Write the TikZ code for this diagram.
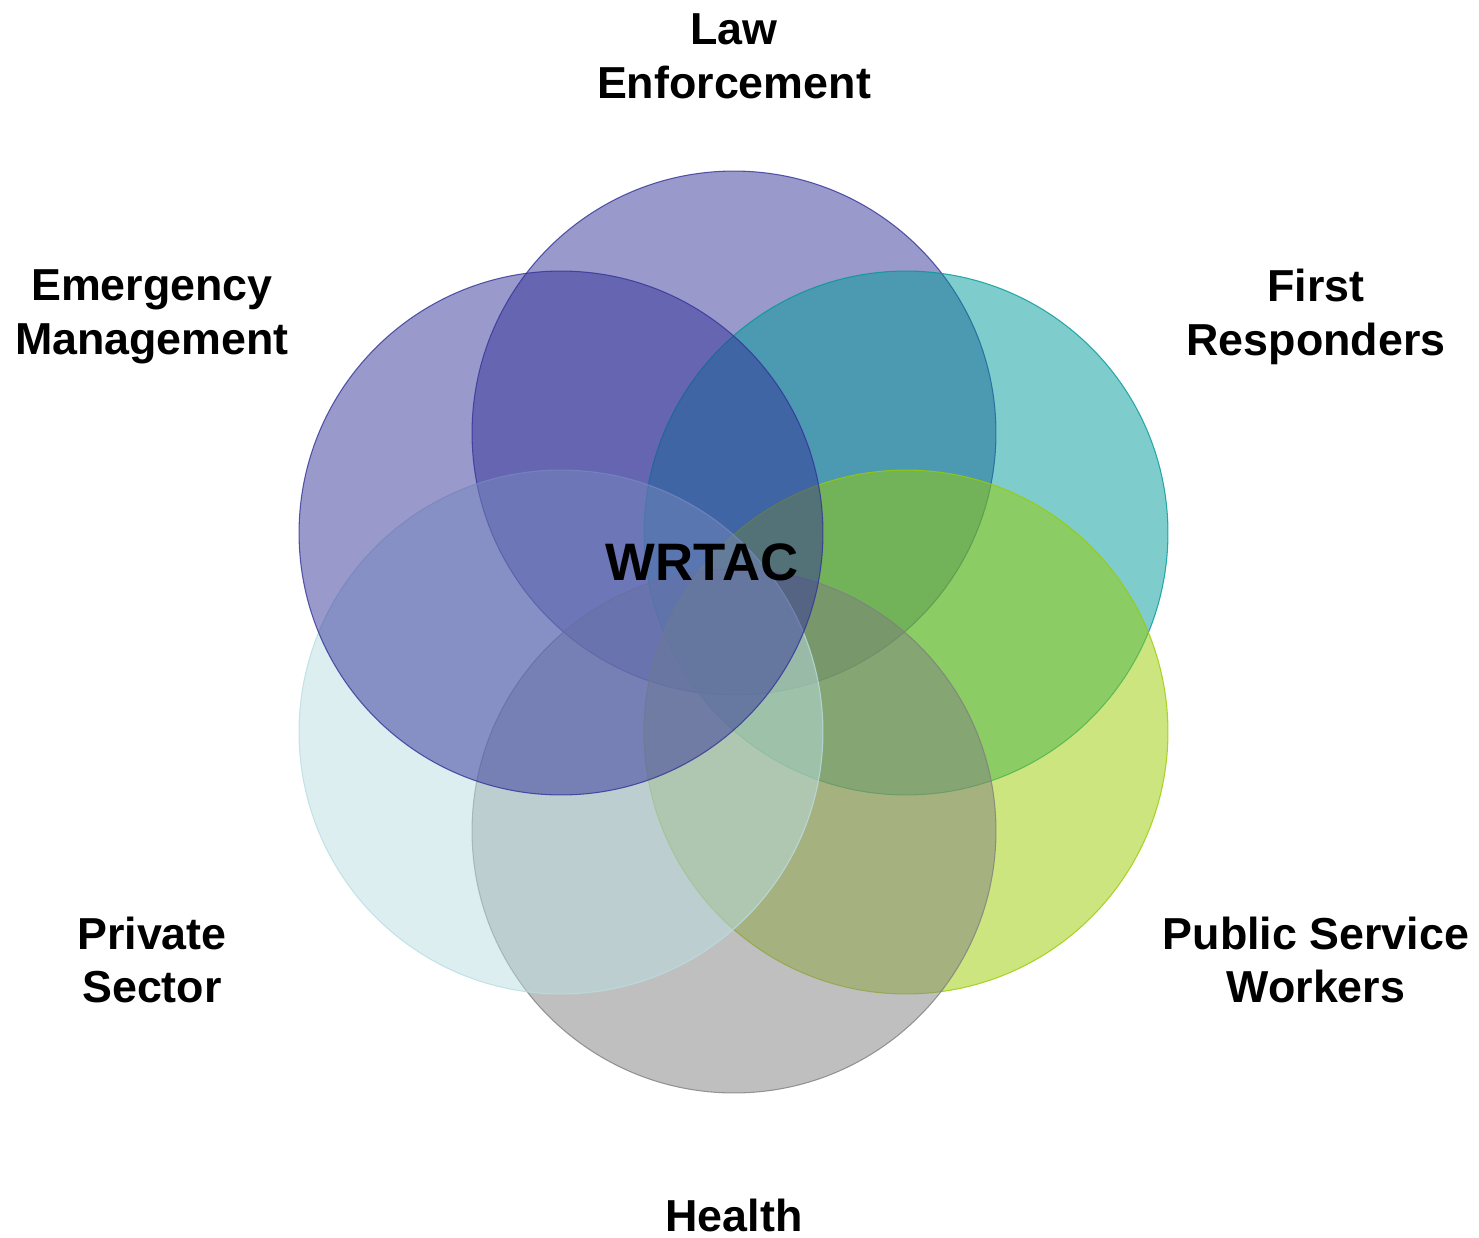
\documentclass[tikz,border=0pt]{standalone}
\usepackage{fontspec}
\setmainfont{Liberation Sans}
\usepackage{xcolor}
\usetikzlibrary{positioning}
\definecolor{lawc}{HTML}{333399}
\definecolor{emc}{HTML}{333399}
\definecolor{firstc}{HTML}{009999}
\definecolor{publicc}{HTML}{99CC00}
\definecolor{privc}{HTML}{B9DDE2}
\definecolor{healthc}{HTML}{808080}
\def\sector#1#2#3{\node[ring,draw=#2,fill=#2] (#1) at (#3) {}}
\tikzstyle{ring}=[circle,inner sep=0pt,minimum size=10.48cm,fill opacity=0.5,draw opacity=0.8,line width=0.6pt]
\tikzstyle{lbl}=[align=center,font=\fontsize{25.5}{30.7}\selectfont\bfseries,text=black]
\tikzstyle{hub}=[font=\fontsize{30}{36}\selectfont\bfseries,text=black]
\begin{document}
\begin{tikzpicture}[x=0.02cm,y=-0.02cm]
    \useasboundingbox (0,0) rectangle (1479,1237);
    \sector{law}{lawc}{734,433};
    \sector{first}{firstc}{906,533};
    \sector{public}{publicc}{906,732};
    \sector{health}{healthc}{734,831};
    \sector{priv}{privc}{561,732};
    \sector{em}{emc}{561,533};
    \node[hub] (wrtac) at (702,562) {WRTAC};
    \node[lbl] (lawlbl) at (734,56) {Law\\Enforcement};
    \node[lbl] (emlbl) at (152,317) {Emergency\\Management};
    \node[lbl] (firstlbl) at (1316,317) {First\\Responders};
    \node[lbl] (privlbl) at (152,960) {Private\\Sector};
    \node[lbl] (publiclbl) at (1316,960) {Public Service\\Workers};
    \node[lbl] (healthlbl) at (734,1215) {Health};
  \end{tikzpicture}
\end{document}
